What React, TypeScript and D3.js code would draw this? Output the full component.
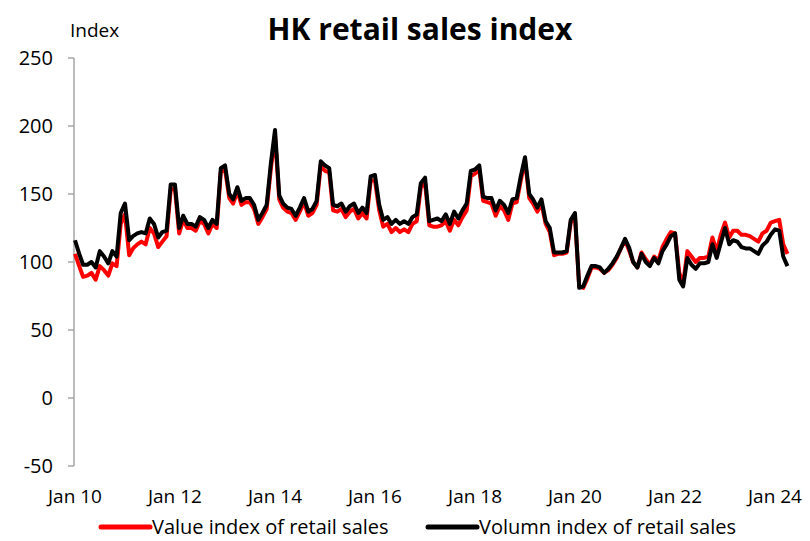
import React from "react";
import * as d3 from "d3";

const startYear = 2010;
const volumeIndex: number[] = [
  // 2010
  116, 106, 98, 98, 100, 96, 108, 104, 99, 108, 104, 136,
  // 2011
  143, 116, 119, 121, 122, 121, 132, 128, 118, 122, 123, 157,
  // 2012
  157, 125, 134, 128, 128, 126, 133, 131, 125, 131, 128, 169,
  // 2013
  171, 150, 146, 155, 145, 147, 147, 142, 131, 136, 142, 172,
  // 2014
  197, 149, 143, 140, 139, 134, 140, 147, 137, 139, 145, 174,
  // 2015
  171, 169, 142, 141, 143, 137, 141, 143, 136, 140, 136, 163,
  // 2016
  164, 142, 131, 133, 128, 131, 128, 130, 128, 133, 135, 158,
  // 2017
  162, 130, 131, 132, 130, 135, 128, 137, 132, 138, 143, 167,
  // 2018
  168, 171, 148, 147, 147, 138, 145, 142, 136, 146, 147, 163,
  // 2019
  177, 150, 146, 140, 146, 130, 125, 107, 107, 107, 108, 131,
  // 2020
  136, 81, 82, 90, 97, 97, 96, 92, 95, 99, 104, 110,
  // 2021
  117, 110, 100, 96, 106, 100, 97, 103, 99, 108, 113, 119,
  // 2022
  121, 87, 82, 103, 98, 95, 99, 99, 100, 113, 103, 114,
  // 2023
  125, 113, 116, 115, 111, 110, 110, 108, 106, 112, 115, 120,
  // 2024
  124, 123, 104, 97,
];
const valueIndex: number[] = [
  // 2010
  106, 97, 89, 90, 92, 87, 97, 94, 90, 99, 97, 128,
  // 2011
  135, 105, 110, 113, 115, 113, 125, 121, 111, 115, 119, 153,
  // 2012
  154, 121, 131, 125, 125, 123, 130, 128, 121, 128, 125, 166,
  // 2013
  168, 147, 143, 152, 142, 144, 144, 139, 128, 133, 139, 168,
  // 2014
  193, 146, 140, 137, 136, 131, 137, 144, 134, 136, 142, 171,
  // 2015
  167, 166, 138, 137, 139, 133, 137, 139, 132, 136, 132, 160,
  // 2016
  160, 138, 126, 128, 122, 125, 122, 124, 122, 128, 130, 155,
  // 2017
  158, 127, 126, 126, 127, 130, 123, 131, 127, 133, 138, 163,
  // 2018
  165, 168, 145, 144, 143, 134, 141, 138, 131, 143, 144, 160,
  // 2019
  175, 147, 143, 137, 143, 128, 122, 105, 106, 106, 107, 129,
  // 2020
  133, 82, 81, 88, 96, 96, 95, 92, 94, 98, 103, 110,
  // 2021
  116, 108, 100, 96, 107, 102, 98, 104, 101, 111, 117, 122,
  // 2022
  121, 92, 84, 108, 104, 100, 103, 103, 104, 118, 108, 120,
  // 2023
  129, 118, 123, 123, 120, 120, 119, 117, 115, 121, 123, 129,
  // 2024
  130, 131, 113, 106,
];
const yTicks: number[] = [-50, 0, 50, 100, 150, 200, 250];
const xTickYears: number[] = [2010, 2012, 2014, 2016, 2018, 2020, 2022, 2024];
const xTickLabels: string[] = ["Jan 10", "Jan 12", "Jan 14", "Jan 16", "Jan 18", "Jan 20", "Jan 22", "Jan 24"];
const seriesNames: string[] = ["Value index of retail sales", "Volumn index of retail sales"];
const seriesColors: string[] = ["#ff0000", "#000000"];

const W = 810;
const H = 541;
const FONT = "'Open Sans', sans-serif";

export default function App() {
  const months = volumeIndex.map((_, i) => new Date(startYear, i, 1));
  const x = d3
    .scaleTime()
    .domain([new Date(2010, 0, 1), new Date(2024, 0, 1)])
    .range([75, 775]);
  const y = d3.scaleLinear().domain([-50, 250]).range([466, 58]);
  const line = d3
    .line<number>()
    .x((_, i) => x(months[i]))
    .y((d) => y(d));

  const series = [valueIndex, volumeIndex];

  return (
    <svg
      width={W}
      height={H}
      style={{ position: "absolute", left: 0, top: 0, background: "#fff" }}
      fontFamily={FONT}
    >
      <rect width={W} height={H} fill="#fff" />
      <text x={420} y={40} textAnchor="middle" fontSize={30} fontWeight="bold" fill="#000">
        HK retail sales index
      </text>
      <text x={70} y={37} fontSize={19} fill="#000">
        Index
      </text>
      {/* y axis */}
      <line x1={74} x2={74} y1={y(250)} y2={y(-50)} stroke="#a6a6a6" strokeWidth={1.5} />
      {yTicks.map((t) => (
        <g key={t}>
          <line x1={68} x2={74} y1={y(t)} y2={y(t)} stroke="#a6a6a6" strokeWidth={1.5} />
          <text x={53} y={y(t)} dy="0.35em" textAnchor="end" fontSize={20} fill="#000">
            {t}
          </text>
        </g>
      ))}
      {xTickYears.map((yr, i) => (
        <text
          key={yr}
          x={x(new Date(yr, 0, 1))}
          y={503}
          textAnchor="middle"
          fontSize={19}
          fill="#000"
        >
          {xTickLabels[i]}
        </text>
      ))}
      {series.map((s, i) => (
        <path
          key={i}
          d={line(s) || ""}
          fill="none"
          stroke={seriesColors[i]}
          strokeWidth={4}
          strokeLinejoin="round"
        />
      ))}
      {/* legend */}
      {seriesNames.map((n, i) => {
        const lx = i === 0 ? 101 : 428;
        return (
          <g key={n}>
            <line x1={lx} x2={lx + 49} y1={527} y2={527} stroke={seriesColors[i]} strokeWidth={5} strokeLinecap="round" />
            <text x={lx + 51} y={527} dy="0.35em" fontSize={20} fill="#000">
              {n}
            </text>
          </g>
        );
      })}
    </svg>
  );
}
